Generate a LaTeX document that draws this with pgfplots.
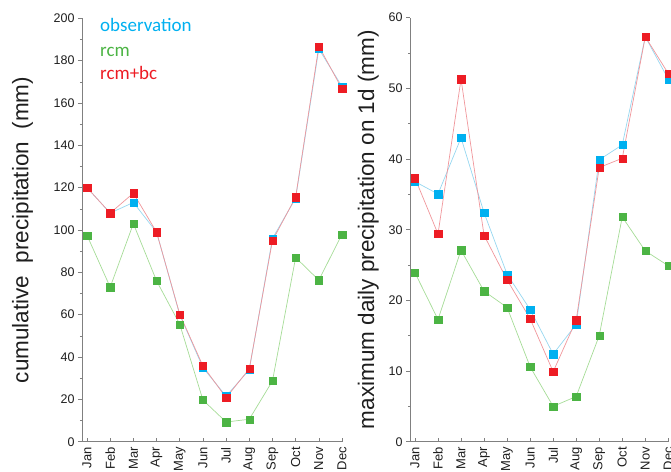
\documentclass[border=0pt]{standalone}
\usepackage{fontspec}
\setmainfont{Liberation Sans}
\newfontfamily\calibri{Carlito}
\usepackage{pgfplots}
\pgfplotsset{compat=1.18}

\definecolor{obs}{RGB}{0,176,240}
\definecolor{rcm}{RGB}{76,180,68}
\definecolor{bc}{RGB}{237,28,36}
\definecolor{obsl}{RGB}{150,215,240}
\definecolor{rcml}{RGB}{165,220,150}
\definecolor{bcl}{RGB}{240,150,155}
\definecolor{axgray}{RGB}{128,128,128}
\definecolor{txt}{RGB}{30,30,30}

\pgfplotsset{
  mystyle/.style={
    scale only axis,
    anchor=south west,
    clip=false,
    axis lines=left,
    axis line style={axgray,-,line width=0.8pt},
    xmin=0.784, xmax=12,
    ymin=0,
    xtick={1,2,3,4,5,6,7,8,9,10,11,12},
    xticklabels={Jan,Feb,Mar,Apr,May,Jun,Jul,Aug,Sep,Oct,Nov,Dec},
    xtick align=inside,
    ytick align=outside,
    major tick length=4pt,
    minor tick length=2pt,
    tick style={axgray,line width=0.6pt},
    minor y tick num=1,
    x tick label style={rotate=90,anchor=east,font=\fontsize{13}{13}\selectfont,text=txt,xshift=-2pt},
    y tick label style={font=\fontsize{12.5}{12.5}\selectfont,text=txt},
    /pgf/number format/assume math mode=true,
    every axis plot/.append style={line width=0.7pt},
  },
  rcmS/.style={rcml, mark=square*, mark size=3.6pt, mark options={draw=rcm,fill=rcm,line width=0.2pt}},
  obsS/.style={obsl, mark=square*, mark size=3.6pt, mark options={draw=obs,fill=obs,line width=0.2pt}},
  bcS/.style={bcl, mark=square*, mark size=3.6pt, mark options={draw=bc,fill=bc,line width=0.2pt}},
}

\begin{document}
\begin{tikzpicture}
\path[use as bounding box] (0,0) rectangle (671pt,471pt);
\clip (0,0) rectangle (671pt,471pt);

% ---------------- left panel
\begin{axis}[mystyle,
  at={(82pt,29.3pt)}, width=260pt, height=423.4pt,
  ymax=200, ytick={0,20,...,200},
  ylabel={cumulative~~precipitation~~(mm)},
  every axis y label/.style={at={(axis description cs:-0.229,0.5)},rotate=90,anchor=center,font=\fontsize{22.5}{22.5}\selectfont,text=txt},
]
\addplot[rcmS] coordinates {(1,97.5)(2,73)(3,103)(4,76)(5,55.5)(6,19.7)(7,9.3)(8,10.6)(9,28.7)(10,87)(11,76.3)(12,98)};
\addplot[obsS] coordinates {(1,120)(2,108)(3,113)(4,99)(5,60)(6,35)(7,21.5)(8,34)(9,96)(10,115)(11,185.5)(12,167.8)};
\addplot[bcS] coordinates {(1,120)(2,108)(3,117.4)(4,99)(5,60.2)(6,35.8)(7,20.8)(8,34.4)(9,95)(10,115.5)(11,186.8)(12,166.7)};
\end{axis}

% ---------------- right panel
\begin{axis}[mystyle,
  at={(410pt,29.3pt)}, width=258.3pt, height=424pt,
  ymax=60, ytick={0,10,...,60},
  ylabel={maximum daily precipitation on 1d (mm)},
  every axis y label/.style={at={(axis description cs:-0.161,0.5)},rotate=90,anchor=center,font=\fontsize{22.5}{22.5}\selectfont,text=txt},
]
\addplot[rcmS] coordinates {(1,23.9)(2,17.3)(3,27.1)(4,21.3)(5,19.0)(6,10.6)(7,5.0)(8,6.4)(9,15.0)(10,31.8)(11,27.0)(12,24.9)};
\addplot[obsS] coordinates {(1,36.8)(2,35.05)(3,43.0)(4,32.4)(5,23.7)(6,18.7)(7,12.4)(8,16.6)(9,39.9)(10,42.0)(11,57.3)(12,51.3)};
\addplot[bcS] coordinates {(1,37.3)(2,29.4)(3,51.3)(4,29.2)(5,22.9)(6,17.4)(7,9.9)(8,17.2)(9,38.8)(10,40.1)(11,57.3)(12,52.1)};
\end{axis}

% legend (text only)
\node[anchor=base west,inner sep=0,text=obs,font=\calibri\fontsize{19}{19}\selectfont] at (100pt,439.3pt) {observation};
\node[anchor=base west,inner sep=0,text=rcm,font=\calibri\fontsize{19}{19}\selectfont] at (100pt,414.3pt) {rcm};
\node[anchor=base west,inner sep=0,text=bc,font=\calibri\fontsize{19}{19}\selectfont] at (100pt,391pt) {rcm+bc};
\end{tikzpicture}
\end{document}
